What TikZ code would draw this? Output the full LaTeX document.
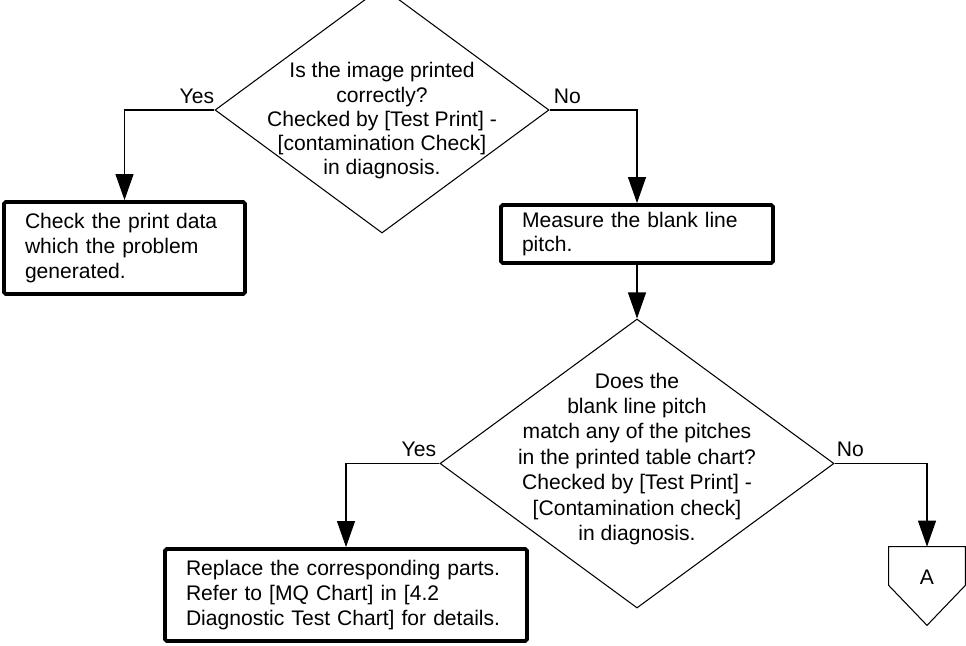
\documentclass[tikz,border=0pt]{standalone}
\usepackage{fontspec}
\setmainfont{Liberation Sans}
\usepackage{tikz}
\usetikzlibrary{shapes.geometric,arrows.meta,positioning,calc}
\newcommand{\flowfont}{\fontsize{12pt}{14pt}\selectfont}

\begin{document}
\begin{tikzpicture}[
  decision/.style={diamond,draw,line width=0.6pt,inner sep=0pt},
  qtext/.style={align=center,font=\fontsize{12pt}{#1}\selectfont,inner sep=0pt},
  action/.style={rectangle,draw,line width=2.2pt,rounded corners=1pt,
                 align=left,font=\flowfont,inner xsep=0.42cm,text width=#1},
  branch/.style={font=\flowfont,inner sep=0pt},
  flow/.style={-{Triangle[length=0.52cm,width=0.36cm]},line width=0.6pt}
]
\clip (0,0) rectangle (19.32,-12.9);
% First question
\node[decision,minimum width=6.68cm,minimum height=4.92cm] (q1) at (7.64,-2.20) {};
\node[qtext=13.8pt] (q1t) at (7.64,-2.42) {Is the image printed\\correctly?\\Checked by [Test Print] -\\{}[contamination Check]\\in diagnosis.};
% Yes: check data
\node[action=3.98cm,minimum width=4.82cm,minimum height=1.84cm] (chk) at (2.49,-4.96) {Check the print data\\which the problem\\generated.};
% No: measure
\node[action=4.60cm,minimum width=5.44cm,minimum height=1.16cm] (meas) at (12.74,-4.68) {Measure the blank line\\pitch.};
% Second question
\node[decision,minimum width=7.88cm,minimum height=5.78cm] (q2) at (12.74,-9.27) {};
\node[qtext=14.5pt] (q2t) at (12.74,-9.18) {Does the\\blank line pitch\\match any of the pitches\\in the printed table chart?\\Checked by [Test Print] -\\{}[Contamination check]\\in diagnosis.};
% Yes: replace parts
\node[action=6.40cm,minimum width=7.24cm,minimum height=1.84cm] (repl) at (6.92,-11.90) {Replace the corresponding parts.\\Refer to [MQ Chart] in [4.2\\Diagnostic Test Chart] for details.};
% No: off-page connector A
\node[inner sep=0pt,minimum width=1.52cm,minimum height=0.76cm] (conA) at (18.54,-11.32) {};
\draw[line width=0.6pt] (conA.north west) -- (conA.north east) -- (conA.south east)
  -- ([yshift=-0.8cm]conA.south) -- (conA.south west) -- cycle;
\node[branch] (labA) at (18.54,-11.54) {A};
% Branch labels
\node[branch,anchor=base east] (yes1) at ([yshift=0.14cm]q1.west) {Yes};
\node[branch,anchor=base west] (no1) at ([xshift=0.08cm,yshift=0.14cm]q1.east) {No};
\node[branch,anchor=base east] (yes2) at ([xshift=-0.06cm,yshift=0.14cm]q2.west) {Yes};
\node[branch,anchor=base west] (no2) at ([xshift=0.04cm,yshift=0.14cm]q2.east) {No};
% Arrows
\draw[flow] (q1.west) -| (chk.north);
\draw[flow] (q1.east) -| (meas.north);
\draw[flow] (meas.south) -- (q2.north);
\draw[flow] (q2.west) -| (repl.north);
\draw[flow] (q2.east) -| (conA.north);
\end{tikzpicture}
\end{document}
